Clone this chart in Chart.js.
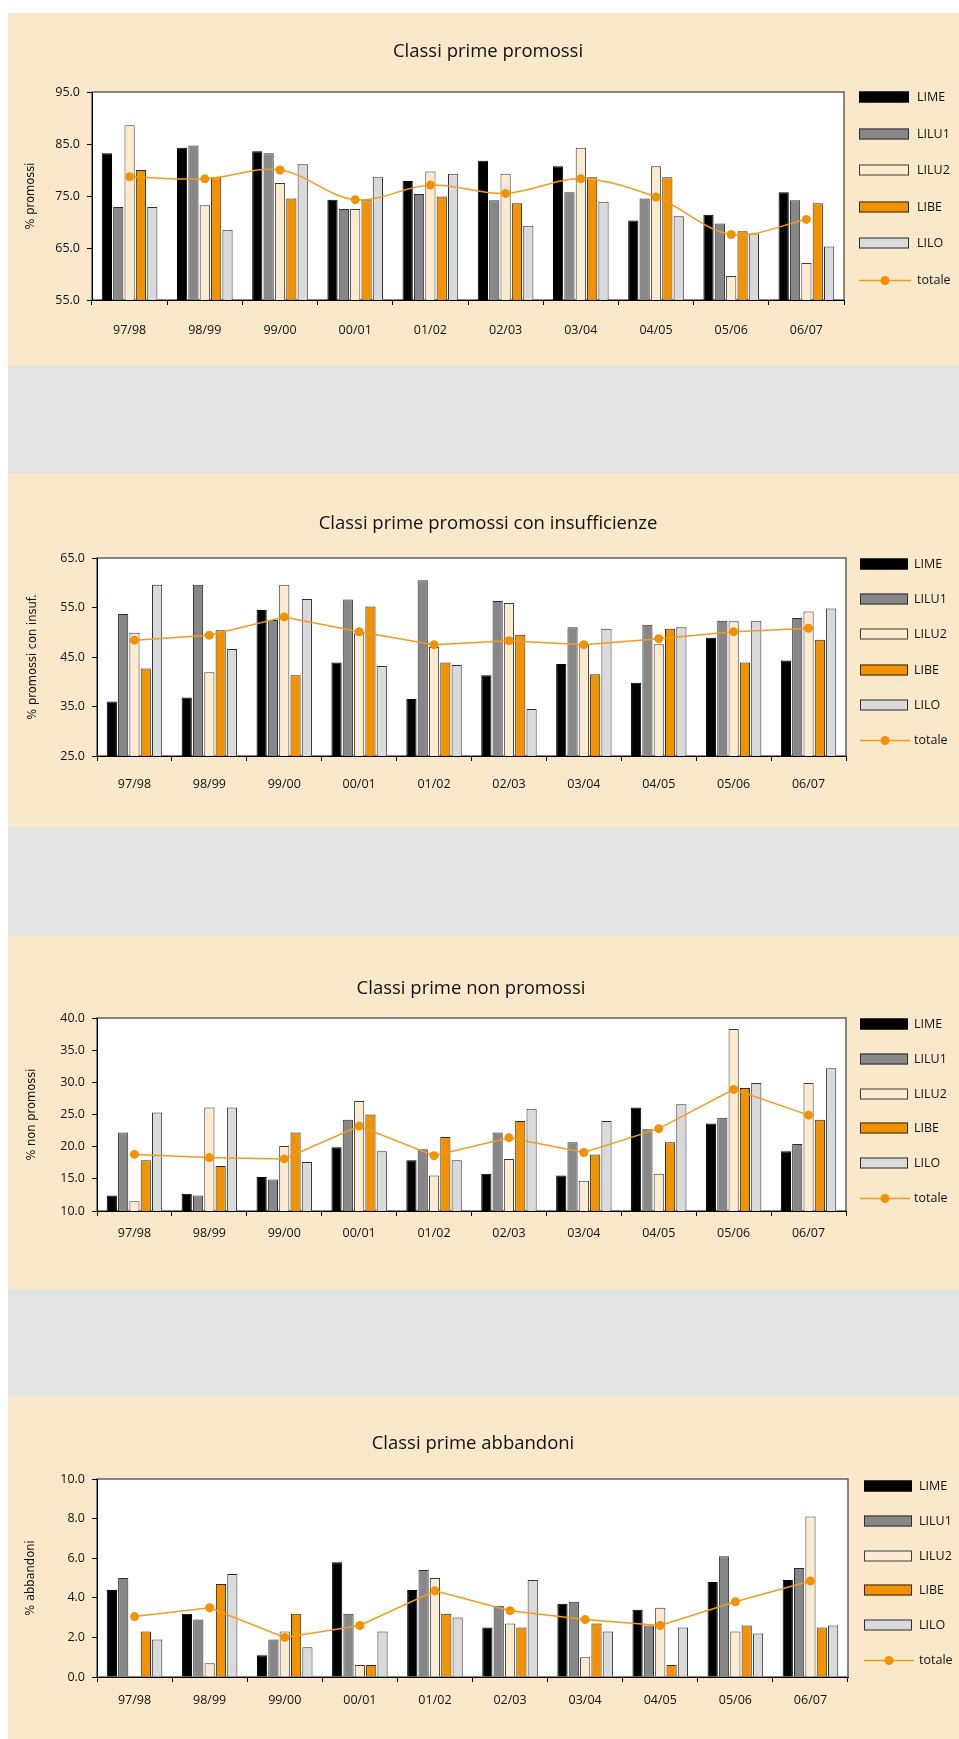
<!DOCTYPE html>
<html lang="it">
<head>
<meta charset="utf-8">
<title>Classi prime – esiti</title>
<script src="https://cdn.jsdelivr.net/npm/chart.js@4.4.1/dist/chart.umd.min.js"></script>
<style>
  html, body { margin: 0; padding: 0; background: #ffffff; }
  body { width: 959px; height: 1739px; position: relative; overflow: hidden; font-family: "Open Sans", sans-serif; }
  .panel { position: absolute; left: 8px; width: 951px; background: #FAE8CB; }
  .band  { position: absolute; left: 8px; width: 951px; background: #E2E3E4; }
  .panel canvas { position: absolute; left: 0; top: 0; }
  .title { position: absolute; white-space: nowrap; transform: translate(-50%, -50%);
           font-family: "Open Sans", sans-serif; font-size: 18.5px; color: #111; line-height: 1; }
</style>
</head>
<body>

<div class="panel" id="p1" style="top:13px;height:353px"><canvas id="c1"></canvas></div>
<div class="band" style="top:366px;height:107px"></div>
<div class="panel" id="p2" style="top:473px;height:354px"><canvas id="c2"></canvas></div>
<div class="band" style="top:827px;height:109px"></div>
<div class="panel" id="p3" style="top:936px;height:353px"><canvas id="c3"></canvas></div>
<div class="band" style="top:1289px;height:107px"></div>
<div class="panel" id="p4" style="top:1396px;height:343px"><canvas id="c4"></canvas></div>

<div class="title" style="left:488px;top:50px">Classi prime promossi</div>
<div class="title" style="left:488px;top:522px">Classi prime promossi con insufficienze</div>
<div class="title" style="left:471px;top:987px">Classi prime non promossi</div>
<div class="title" style="left:473px;top:1442px">Classi prime abbandoni</div>

<script>
// School years
const categories = ['97/98', '98/99', '99/00', '00/01', '01/02', '02/03', '03/04', '04/05', '05/06', '06/07'];
const seriesNames = ['LIME', 'LILU1', 'LILU2', 'LIBE', 'LILO'];
const totalName = 'totale';

// % promossi
const promossiLIME   = [83.2, 84.3, 83.6, 74.3, 77.9, 81.8, 80.7, 70.3, 71.4, 75.7];
const promossiLILU1  = [72.9, 84.7, 83.2, 72.5, 75.4, 74.2, 75.7, 74.5, 69.7, 74.2];
const promossiLILU2  = [88.6, 73.2, 77.5, 72.5, 79.7, 79.3, 84.3, 80.7, 59.6, 62.1];
const promossiLIBE   = [80.0, 78.6, 74.5, 74.2, 74.9, 73.6, 78.6, 78.6, 68.2, 73.6];
const promossiLILO   = [72.9, 68.5, 81.1, 78.6, 79.3, 69.3, 73.9, 71.1, 67.8, 65.3];
const promossiTotale = [78.7, 78.3, 80.0, 74.3, 77.1, 75.5, 78.3, 74.8, 67.6, 70.5];
const promossiTicks  = [55, 65, 75, 85, 95];

// % promossi con insufficienze
const insufLIME   = [36.0, 36.8, 54.5, 43.9, 36.5, 41.3, 43.6, 39.8, 48.9, 44.3];
const insufLILU1  = [53.7, 59.6, 52.5, 56.6, 60.5, 56.3, 51.0, 51.5, 52.3, 52.9];
const insufLILU2  = [49.9, 41.9, 59.6, 49.8, 47.0, 55.9, 47.6, 47.6, 52.2, 54.2];
const insufLIBE   = [42.7, 50.4, 41.3, 55.2, 43.9, 49.5, 41.5, 50.7, 43.9, 48.5];
const insufLILO   = [59.6, 46.6, 56.7, 43.2, 43.4, 34.5, 50.7, 51.0, 52.3, 54.8];
const insufTotale = [48.4, 49.4, 53.1, 50.1, 47.5, 48.3, 47.5, 48.7, 50.1, 50.8];
const insufTicks  = [25, 35, 45, 55, 65];

// % non promossi
const nonPromLIME   = [12.4, 12.7, 15.3, 19.9, 17.9, 15.8, 15.5, 26.1, 23.6, 19.3];
const nonPromLILU1  = [22.2, 12.4, 14.9, 24.2, 19.6, 22.2, 20.7, 22.7, 24.5, 20.4];
const nonPromLILU2  = [11.5, 26.1, 20.1, 27.1, 15.5, 18.1, 14.7, 15.8, 38.3, 29.9];
const nonPromLIBE   = [17.9, 17.0, 22.2, 25.0, 21.5, 24.0, 18.8, 20.7, 29.1, 24.2];
const nonPromLILO   = [25.3, 26.1, 17.6, 19.3, 17.9, 25.9, 24.0, 26.6, 29.9, 32.2];
const nonPromTotale = [18.8, 18.3, 18.1, 23.2, 18.6, 21.4, 19.1, 22.8, 28.9, 24.9];
const nonPromTicks  = [10, 15, 20, 25, 30, 35, 40];

// % abbandoni
const abbLIME   = [4.4, 3.2, 1.1, 5.8, 4.4, 2.5, 3.7, 3.4, 4.8, 4.9];
const abbLILU1  = [5.0, 2.9, 1.9, 3.2, 5.4, 3.6, 3.8, 2.6, 6.1, 5.5];
const abbLILU2  = [null, 0.7, 2.3, 0.6, 5.0, 2.7, 1.0, 3.5, 2.3, 8.1];
const abbLIBE   = [2.3, 4.7, 3.2, 0.6, 3.2, 2.5, 2.7, 0.6, 2.6, 2.5];
const abbLILO   = [1.9, 5.2, 1.5, 2.3, 3.0, 4.9, 2.3, 2.5, 2.2, 2.6];
const abbTotale = [3.05, 3.5, 2.0, 2.6, 4.35, 3.35, 2.9, 2.6, 3.8, 4.85];
const abbTicks  = [0, 2, 4, 6, 8, 10];

// Series styling
const barFill   = ['#000000', '#878787', '#FCEBD0', '#F39200', '#D9DADC'];
const barBorder = ['#000000', '#2e2e2e', '#3a3a3a', '#2a2a2a', '#2e2e2e'];
const lineColor = '#F39A1E';
const dotColor  = '#F39200';

Chart.defaults.font.family = '"Open Sans", sans-serif';
Chart.defaults.color = '#111';
Chart.defaults.animation = false;

// White plot area with a thin frame
const plotFrame = {
  id: 'plotFrame',
  beforeDraw(chart) {
    const { ctx, chartArea: a } = chart;
    ctx.save();
    ctx.fillStyle = '#ffffff';
    ctx.fillRect(a.left, a.top, a.right - a.left, a.bottom - a.top);
    ctx.strokeStyle = '#4a4a4a';
    ctx.lineWidth = 1.3;
    ctx.strokeRect(a.left, a.top, a.right - a.left, a.bottom - a.top);
    ctx.restore();
  }
};

// Legend stacked on the right, built from the datasets
const sideLegend = {
  id: 'sideLegend',
  afterDraw(chart, args, opts) {
    const ctx = chart.ctx;
    ctx.save();
    ctx.font = '12.5px "Open Sans", sans-serif';
    ctx.textBaseline = 'middle';
    ctx.textAlign = 'left';
    chart.data.datasets.forEach((ds, i) => {
      const y = Math.round(opts.y + i * opts.step);
      if (ds.type === 'line') {
        ctx.strokeStyle = ds.borderColor;
        ctx.lineWidth = 1.5;
        ctx.beginPath();
        ctx.moveTo(opts.x, y + 0.5);
        ctx.lineTo(opts.x + opts.w + 2, y + 0.5);
        ctx.stroke();
        ctx.fillStyle = ds.pointBackgroundColor;
        ctx.beginPath();
        ctx.arc(opts.x + opts.w / 2 + 1, y + 0.5, 4.5, 0, Math.PI * 2);
        ctx.fill();
      } else {
        ctx.fillStyle = ds.backgroundColor;
        ctx.fillRect(opts.x, y - 5.5, opts.w, 11);
        ctx.strokeStyle = ds.borderColor;
        ctx.lineWidth = 1;
        ctx.strokeRect(opts.x + 0.5, y - 5, opts.w - 1, 10);
      }
      ctx.fillStyle = '#111';
      ctx.fillText(ds.label, opts.textX, y + 0.5);
    });
    ctx.restore();
  }
};

function makeChart(spec) {
  const canvas = document.getElementById(spec.canvas);
  canvas.width = 951;
  canvas.height = spec.height;
  canvas.style.width = '951px';
  canvas.style.height = spec.height + 'px';

  const datasets = spec.series.map((values, i) => ({
    type: 'bar',
    label: seriesNames[i],
    data: values,
    backgroundColor: barFill[i],
    borderColor: barBorder[i],
    borderWidth: 1,
    categoryPercentage: 0.755,
    barPercentage: 0.9,
    order: 1
  }));
  datasets.push({
    type: 'line',
    label: totalName,
    data: spec.total,
    borderColor: lineColor,
    borderWidth: 1.5,
    tension: spec.tension,
    pointRadius: 4.5,
    pointHoverRadius: 4.5,
    pointBackgroundColor: dotColor,
    pointBorderColor: dotColor,
    pointBorderWidth: 0,
    order: 0
  });

  const ticks = spec.ticks;
  return new Chart(canvas, {
    type: 'bar',
    data: { labels: categories, datasets },
    plugins: [plotFrame, sideLegend],
    options: {
      responsive: false,
      events: [],
      layout: { padding: spec.padding },
      plugins: {
        legend: { display: false },
        tooltip: { enabled: false },
        sideLegend: spec.legend
      },
      scales: {
        x: {
          type: 'category',
          offset: true,
          grid: { offset: true, drawOnChartArea: false, drawTicks: true, tickLength: 5, color: '#000', lineWidth: 1 },
          border: { display: true, color: '#000', width: 1 },
          ticks: { padding: spec.xPad, font: { size: 12.5 }, color: '#111', maxRotation: 0, autoSkip: false },
          afterFit: s => { s.height = spec.xH; }
        },
        y: {
          min: ticks[0],
          max: ticks[ticks.length - 1],
          afterBuildTicks: s => { s.ticks = ticks.map(v => ({ value: v })); },
          grid: { drawOnChartArea: false, drawTicks: true, tickLength: 5, color: '#000', lineWidth: 1 },
          border: { display: true, color: '#000', width: 1 },
          ticks: { padding: 7, font: { size: 12.5 }, color: '#111', callback: v => Number(v).toFixed(1) },
          title: {
            display: true,
            text: spec.axisTitle,
            font: { family: '"DejaVu Sans", sans-serif', size: 11.5 },
            color: '#111',
            padding: { top: spec.titlePad, bottom: 0 }
          },
          afterFit: s => { s.width = spec.yW; }
        }
      }
    }
  });
}

makeChart({
  canvas: 'c1', height: 353, axisTitle: '% promossi',
  series: [promossiLIME, promossiLILU1, promossiLILU2, promossiLIBE, promossiLILO],
  total: promossiTotale, ticks: promossiTicks, tension: 0.35,
  padding: { left: 0, right: 115, top: 79, bottom: 21 }, yW: 84, xH: 45, xPad: 18, titlePad: 16,
  legend: { x: 851, w: 50, textX: 909, y: 84, step: 36.6 }
});

makeChart({
  canvas: 'c2', height: 354, axisTitle: '% promossi con insuf.',
  series: [insufLIME, insufLILU1, insufLILU2, insufLIBE, insufLILO],
  total: insufTotale, ticks: insufTicks, tension: 0,
  padding: { left: 0, right: 113, top: 85, bottom: 31 }, yW: 89, xH: 40, xPad: 16, titlePad: 18,
  legend: { x: 852, w: 48, textX: 906, y: 91, step: 35.2 }
});

makeChart({
  canvas: 'c3', height: 353, axisTitle: '% non promossi',
  series: [nonPromLIME, nonPromLILU1, nonPromLILU2, nonPromLIBE, nonPromLILO],
  total: nonPromTotale, ticks: nonPromTicks, tension: 0,
  padding: { left: 0, right: 113, top: 82, bottom: 38 }, yW: 89, xH: 40, xPad: 9.5, titlePad: 17,
  legend: { x: 852, w: 48, textX: 906, y: 88, step: 34.8 }
});

makeChart({
  canvas: 'c4', height: 343, axisTitle: '% abbandoni',
  series: [abbLIME, abbLILU1, abbLILU2, abbLIBE, abbLILO],
  total: abbTotale, ticks: abbTicks, tension: 0,
  padding: { left: 0, right: 111, top: 83, bottom: 22 }, yW: 89, xH: 40, xPad: 10.5, titlePad: 16,
  legend: { x: 856, w: 48, textX: 911, y: 90, step: 34.8 }
});
</script>
</body>
</html>
